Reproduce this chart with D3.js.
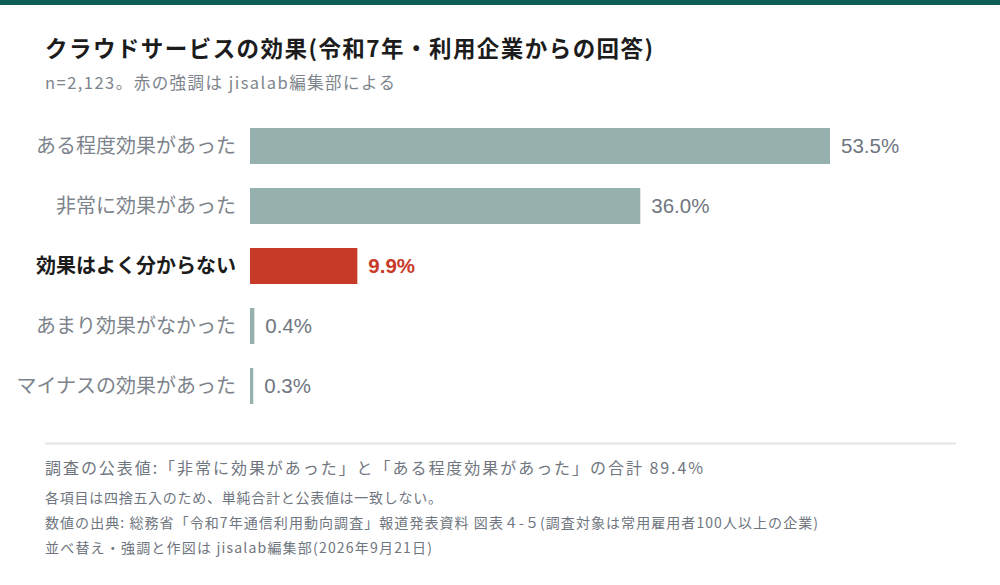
<!DOCTYPE html>
<html><head><meta charset="utf-8">
<script src="https://cdn.jsdelivr.net/npm/d3@7"></script>
<style>
body{margin:0;background:#fff;}
svg{display:block;font-family:"Noto Sans CJK JP","Noto Sans",sans-serif;}
</style></head>
<body><svg id="c" width="1000" height="585"></svg>
<script>
const categories = ["ある程度効果があった","非常に効果があった","効果はよく分からない","あまり効果がなかった","マイナスの効果があった"];
const values = [53.5, 36.0, 9.9, 0.4, 0.3];
const highlight = [false, false, true, false, false];
const title = "クラウドサービスの効果(令和7年・利用企業からの回答)";
const subtitle = "n=2,123。赤の強調は jisalab編集部による";
const notes = [
  "調査の公表値:「非常に効果があった」と「ある程度効果があった」の合計 89.4%",
  "各項目は四捨五入のため、単純合計と公表値は一致しない。",
  "数値の出典: 総務省「令和7年通信利用動向調査」報道発表資料 図表４-５(調査対象は常用雇用者100人以上の企業)",
  "並べ替え・強調と作図は jisalab編集部(2026年9月21日)"
];

const svg = d3.select("#c");
const W = 1000;
svg.append("rect").attr("x",0).attr("y",0).attr("width",W).attr("height",5).attr("fill","#0f5e55");

svg.append("text").attr("x",45).attr("y",57).text(title)
  .attr("font-size",22.5).attr("font-weight",700).attr("fill","#1c1c1c")
  .attr("textLength",608).attr("lengthAdjust","spacing");
svg.append("text").attr("x",45).attr("y",89).text(subtitle)
  .attr("font-size",16.5).attr("fill","#7d848c")
  .attr("textLength",350).attr("lengthAdjust","spacing");

const x = d3.scaleLinear().domain([0,53.5]).range([250,830]);
const y = d3.scaleBand().domain(categories).range([116,416]).paddingInner(0.4).paddingOuter(0.2);

const g = svg.append("g");
categories.forEach((c,i)=>{
  const yy = y(c), h = y.bandwidth();
  const w = Math.max(3, x(values[i]) - x(0));
  g.append("rect").attr("x",x(0)).attr("y",yy).attr("width",w).attr("height",h)
    .attr("fill", highlight[i] ? "#c83a28" : "#95b0ad");
  g.append("text").attr("x",236).attr("y",yy+h/2).attr("dy","0.36em")
    .attr("text-anchor","end").text(c)
    .attr("font-size",20).attr("font-weight",highlight[i]?700:400)
    .attr("fill",highlight[i]?"#1c1c1c":"#7d848c");
  g.append("text").attr("x",x(0)+w+11).attr("y",yy+h/2).attr("dy","0.36em")
    .text(values[i].toFixed(1)+"%")
    .style("font-family","'Liberation Sans',Arial,sans-serif")
    .attr("font-size",20.5).attr("font-weight",highlight[i]?700:400)
    .attr("fill",highlight[i]?"#c83a28":"#6f7680");
});

svg.append("line").attr("x1",45).attr("x2",956).attr("y1",443.5).attr("y2",443.5)
  .attr("stroke","#e1e5ea").attr("stroke-width",2);

const noteLens = [658, 397, 773, 387];
svg.append("text").attr("x",45).attr("y",474).text(notes[0]).attr("font-size",16).attr("fill","#6f7680")
  .attr("textLength",noteLens[0]).attr("lengthAdjust","spacing");
[1,2,3].forEach((k,j)=>{
  svg.append("text").attr("x",45).attr("y",503+j*25).text(notes[k]).attr("font-size",14).attr("fill","#6f7680")
    .attr("textLength",noteLens[k]).attr("lengthAdjust","spacing");
});
</script></body></html>
